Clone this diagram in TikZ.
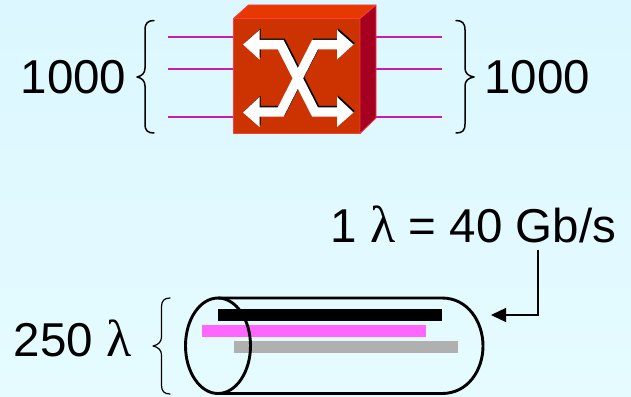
\documentclass[tikz,border=0pt]{standalone}
\usepackage{fontspec}
\setmainfont{Liberation Sans}
\newfontfamily\greekf{Liberation Serif}
\usetikzlibrary{arrows.meta}
\definecolor{bgtop}{HTML}{DCF7FF}
\definecolor{bgbot}{HTML}{E5FBFF}
\definecolor{wire}{HTML}{C020B0}
\definecolor{bfront}{HTML}{CC3300}
\definecolor{btop}{HTML}{E63800}
\definecolor{bside}{HTML}{A50021}
\definecolor{bedge}{HTML}{FF3B3B}
\definecolor{barpink}{HTML}{FF66FF}
\definecolor{bargrey}{HTML}{B0B0B0}
\tikzset{
  lab/.style={anchor=base west,inner sep=0pt,font=\fontsize{47.5}{50}\selectfont},
  wireline/.style={wire,line width=1.9pt},
  facebox/.style={draw=bedge,line width=0.8pt,line join=round},
  bracket/.style={black,line width=1.5pt,line cap=round,line join=round},
  strand/.style={line width=9.4pt,line join=miter,miter limit=8},
  fibre/.style={black,line width=2.9pt},
}
\newcommand{\lam}{{\greekf\fontsize{52}{50}\selectfont λ}}
\newcommand{\xarrows}[1]{%
  \draw[#1,strand] (259,44.7) -- (280.7,44.7) -- (315,112) -- (337,112);
  \draw[#1,strand] (337,44.7) -- (315,44.7) -- (280.7,112) -- (259,112);
  \fill[#1] (243,44.5) -- (259.5,30) -- (259.5,59.5) -- cycle;
  \fill[#1] (353.5,44.5) -- (337,30) -- (337,59.5) -- cycle;
  \fill[#1] (243,112.5) -- (259.5,97) -- (259.5,127) -- cycle;
  \fill[#1] (353.5,112.5) -- (337,97) -- (337,127) -- cycle;
}
\begin{document}
\begin{tikzpicture}[x=1pt,y=-1pt]
\useasboundingbox (0,0) rectangle (631,396);
\shade[top color=bgtop,bottom color=bgbot] (0,0) rectangle (631,396);

% switch box
\coordinate (fl) at (233.5,18.5);
\coordinate (fr) at (360,18.5);
\coordinate (br) at (360,133.5);
\coordinate (bl) at (233.5,133.5);
\coordinate (tl) at (248.5,5);
\coordinate (tr) at (376,5);
\coordinate (sb) at (376,118);

% wires
\foreach \n/\y in {a/37,b/69,c/117}{
  \coordinate (l\n) at (168,\y);
  \coordinate (m\n) at (233.5,\y);
  \coordinate (n\n) at (376,\y);
  \coordinate (r\n) at (442,\y);
  \draw[wireline] (l\n) -- (m\n);
  \draw[wireline] (n\n) -- (r\n);
}
\draw[facebox,fill=bfront] (fl) -- (fr) -- (br) -- (bl) -- cycle;
\draw[facebox,fill=btop] (fl) -- (tl) -- (tr) -- (fr) -- cycle;
\draw[facebox,fill=bside] (fr) -- (tr) -- (sb) -- (br) -- cycle;
\begin{scope}[shift={(1.2,-1.4)}]
  \xarrows{black}
\end{scope}
\xarrows{white}

% braces
\coordinate (bl1) at (154,20.5);
\coordinate (bl2) at (154,133);
\coordinate (bltip) at (137,77);
\draw[bracket] (bl1) .. controls (148,20.5) and (145,23) .. (145,30) -- (145,68)
  .. controls (145,73) and (142,76) .. (bltip)
  .. controls (142,78) and (145,81) .. (145,86) -- (145,124)
  .. controls (145,131) and (148,133) .. (bl2);
\coordinate (br1) at (456,20.5);
\coordinate (br2) at (456,133);
\coordinate (brtip) at (474,77);
\draw[bracket] (br1) .. controls (462,20.5) and (465,23) .. (465,30) -- (465,68)
  .. controls (465,73) and (468,76) .. (brtip)
  .. controls (468,78) and (465,81) .. (465,86) -- (465,124)
  .. controls (465,131) and (462,133) .. (br2);
\coordinate (bf1) at (170,298);
\coordinate (bf2) at (170,394);
\coordinate (bftip) at (153,346);
\draw[bracket,line width=1.2pt] (bf1) .. controls (164,298) and (161.5,301) .. (161.5,307) -- (161.5,337)
  .. controls (161.5,342) and (158,345) .. (bftip)
  .. controls (158,347) and (161.5,350) .. (161.5,355) -- (161.5,385)
  .. controls (161.5,391) and (164,394) .. (bf2);

% labels
\node[lab] (nin) at (20.5,93) {1000};
\node[lab] (nout) at (484,93) {1000};
\node[lab] (rate) at (330.5,242.7) {1 \lam{} = 40 Gb/s};
\node[lab] (count) at (13.5,356) {250 \lam};

% fibre
\fill[black] (218,308.5) rectangle (442,320.5);
\fill[barpink] (202,324.5) rectangle (426,336.5);
\fill[bargrey] (234,340.5) rectangle (458,352.5);
\coordinate (ct) at (218,298);
\coordinate (cb) at (218,393.5);
\coordinate (et) at (442,298);
\coordinate (eb) at (442,393.5);
\draw[fibre] (ct) -- (et) .. controls (468,298) and (483,322) .. (483,346)
  .. controls (483,370) and (468,393.5) .. (eb) -- (cb);
\draw[fibre] (218,345.75) ellipse [x radius=32.5,y radius=47.75];

% arrow
\coordinate (a1) at (538,250);
\coordinate (a2) at (538,315);
\coordinate (a3) at (491,315);
\draw[black,line width=1.3pt,-{Triangle[length=15pt,width=14pt]}] (a1) -- (a2) -- (a3);
\end{tikzpicture}
\end{document}
